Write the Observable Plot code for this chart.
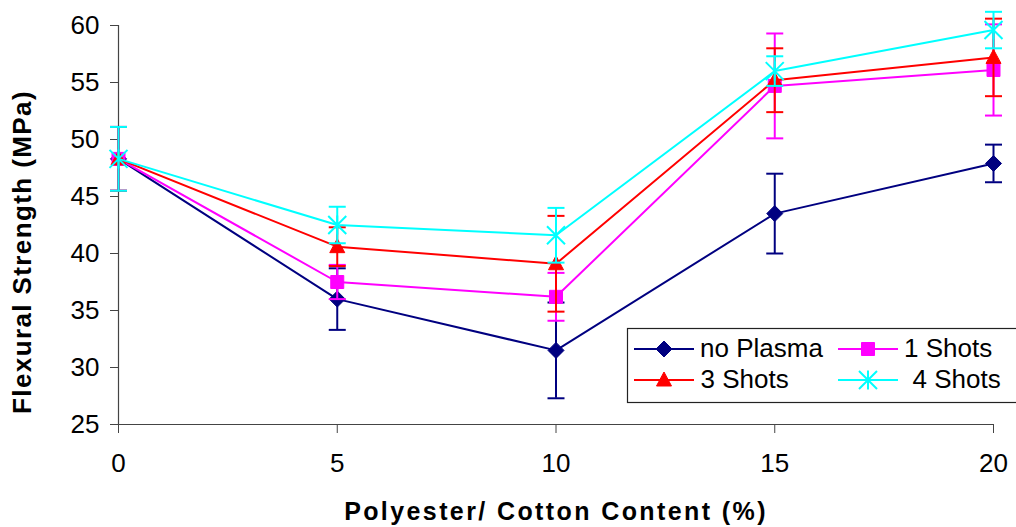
<!DOCTYPE html>
<html>
<head>
<meta charset="utf-8">
<script src="https://cdn.jsdelivr.net/npm/d3@7"></script>
<script src="https://cdn.jsdelivr.net/npm/@observablehq/plot@0.6"></script>
<style>
  html, body { margin: 0; padding: 0; background: #fff; }
  #chart { width: 1016px; height: 527px; }
</style>
</head>
<body>
<div id="chart"></div>
<script>
// ---- data ----
const contents = [0, 5, 10, 15, 20];
const xTicks = [0, 5, 10, 15, 20];
const yTicks = [25, 30, 35, 40, 45, 50, 55, 60];
const seriesNames = ["no Plasma", "1 Shots", "3 Shots", "4 Shots"];

const noPlasma    = [48.3, 36.0, 31.5, 43.5, 47.9];
const noPlasmaErr = [2.8, 2.7, 4.2, 3.5, 1.65];
const shots1      = [48.3, 37.5, 36.2, 54.7, 56.1];
const shots1Err   = [2.8, 1.5, 2.1, 4.6, 4.0];
const shots3      = [48.3, 40.6, 39.1, 55.2, 57.2];
const shots3Err   = [2.8, 1.7, 4.2, 2.8, 3.4];
const shots4      = [48.3, 42.5, 41.6, 56.0, 59.6];
const shots4Err   = [2.8, 1.6, 2.4, 1.3, 1.6];

// ---- styles ----
const FONT = "'Liberation Sans', Arial, Helvetica, sans-serif";
const capSym = {draw(c) { c.moveTo(-8.5, 0); c.lineTo(8.5, 0); }};
const diamondSym = {draw(c) { c.moveTo(0, -8); c.lineTo(8, 0); c.lineTo(0, 8); c.lineTo(-8, 0); c.closePath(); }};
const squareSym = {draw(c) { c.rect(-6.5, -6.5, 13, 13); }};
const triangleSym = {draw(c) { c.moveTo(0, -8); c.lineTo(7.5, 6); c.lineTo(-7.5, 6); c.closePath(); }};
const starSym = {draw(c) {
  c.moveTo(-9, -9); c.lineTo(9, 9);
  c.moveTo(9, -9); c.lineTo(-9, 9);
  c.moveTo(0, -9.5); c.lineTo(0, 9.5);
}};

const series = [
  {name: seriesNames[0], ys: noPlasma, errs: noPlasmaErr, color: "#000080", sym: diamondSym, filled: true},
  {name: seriesNames[1], ys: shots1,   errs: shots1Err,   color: "#FF00FF", sym: squareSym, filled: true},
  {name: seriesNames[2], ys: shots3,   errs: shots3Err,   color: "#FF0000", sym: triangleSym, filled: true},
  {name: seriesNames[3], ys: shots4,   errs: shots4Err,   color: "#00FFFF", sym: starSym, filled: false}
];

const marks = [];
for (const s of series) {
  const data = contents.map((x, i) => ({x, y: s.ys[i], lo: s.ys[i] - s.errs[i], hi: s.ys[i] + s.errs[i]}));
  marks.push(
    Plot.ruleX(data, {x: "x", y1: "lo", y2: "hi", stroke: s.color, strokeWidth: 2}),
    Plot.dot(data, {x: "x", y: "lo", symbol: capSym, stroke: s.color, fill: "none", strokeWidth: 2}),
    Plot.dot(data, {x: "x", y: "hi", symbol: capSym, stroke: s.color, fill: "none", strokeWidth: 2}),
    Plot.line(data, {x: "x", y: "y", stroke: s.color, strokeWidth: 2}),
    Plot.dot(data, {x: "x", y: "y", symbol: s.sym,
      fill: s.filled ? s.color : "none", stroke: s.color, strokeWidth: s.filled ? 1 : 2})
  );
}

const svg = Plot.plot({
  width: 1016,
  height: 527,
  marginLeft: 118,
  marginRight: 23,
  marginTop: 25,
  marginBottom: 103,
  style: {fontFamily: FONT, background: "#fff", color: "#000"},
  x: {domain: [0, 20]},
  y: {domain: [25, 60]},
  marks: [
    Plot.axisY({ticks: yTicks, tickSize: 8, tickPadding: 11, fontSize: 26, label: null, stroke: "#444", fill: "#000"}),
    Plot.axisX({ticks: xTicks, tickSize: 9, tickPadding: 20, fontSize: 26, label: null, stroke: "#444", fill: "#000"}),
    Plot.ruleX([0], {stroke: "#444", strokeWidth: 1.2}),
    Plot.ruleY([25], {stroke: "#444", strokeWidth: 1.2}),
    ...marks,
    Plot.text(["Flexural Strength (MPa)"], {frameAnchor: "left", textAnchor: "middle", lineAnchor: "middle",
      dx: -96, dy: 27, rotate: -90, fontWeight: "bold", fontSize: 26, fill: "#000"}),
    Plot.text(["Polyester/ Cotton Content (%)"], {frameAnchor: "bottom", textAnchor: "middle", lineAnchor: "middle",
      dy: 87, fontWeight: "bold", fontSize: 25, fill: "#000"})
  ]
});

const root = d3.select(svg);
root.selectAll("text").filter(function() { return this.textContent === "Flexural Strength (MPa)"; })
  .style("letter-spacing", "1.4px");
root.selectAll("text").filter(function() { return this.textContent === "Polyester/ Cotton Content (%)"; })
  .style("letter-spacing", "2.4px");

// ---- legend ----
const lg = root.append("g").attr("font-family", FONT).attr("font-size", 26).attr("text-anchor", "start");
lg.append("rect").attr("x", 627.5).attr("y", 328.5).attr("width", 392).attr("height", 74)
  .attr("fill", "#fff").attr("stroke", "#222").attr("stroke-width", 1.2);
const slots = [
  {x1: 634, x2: 694, mx: 664, tx: 700, cy: 349, by: 357},
  {x1: 838, x2: 898, mx: 868, tx: 904, cy: 349, by: 357},
  {x1: 634, x2: 694, mx: 664, tx: 700.5, cy: 380, by: 388},
  {x1: 838, x2: 898, mx: 868, tx: 912.5, cy: 380, by: 388}
];
series.forEach((s, i) => {
  const p = slots[i];
  lg.append("line").attr("x1", p.x1).attr("x2", p.x2).attr("y1", p.cy).attr("y2", p.cy)
    .attr("stroke", s.color).attr("stroke-width", 2);
  lg.append("path").attr("d", d3.symbol(s.sym)())
    .attr("transform", `translate(${p.mx},${p.cy})`)
    .attr("fill", s.filled ? s.color : "none").attr("stroke", s.color)
    .attr("stroke-width", s.filled ? 1 : 2);
  lg.append("text").attr("x", p.tx).attr("y", p.by).attr("fill", "#000")
    .attr("text-anchor", "start").text(s.name);
});

document.getElementById("chart").appendChild(svg);
</script>
</body>
</html>
